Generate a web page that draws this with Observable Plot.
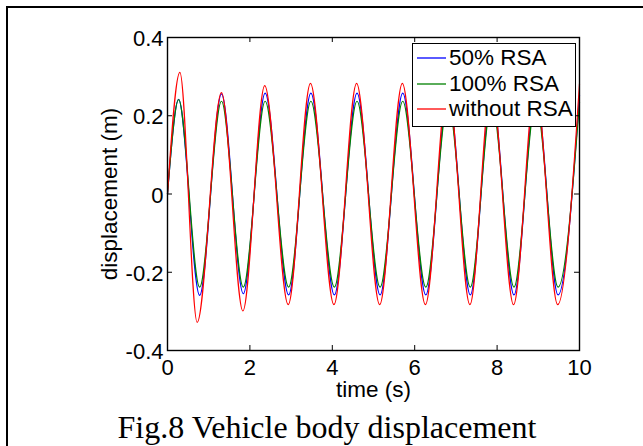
<!DOCTYPE html>
<html><head><meta charset="utf-8">
<script src="https://cdn.jsdelivr.net/npm/d3@7"></script>
<script src="https://cdn.jsdelivr.net/npm/@observablehq/plot@0.6"></script>
<style>
html,body{margin:0;padding:0;background:#fff;overflow:hidden;}
#wrap{position:relative;width:643px;height:446px;overflow:hidden;background:#fff;}
#border{position:absolute;left:6px;top:6px;width:800px;height:600px;border-left:2px solid #000;border-top:2px solid #000;box-sizing:border-box;}
#chart{position:absolute;left:0;top:0;}
#legend{position:absolute;left:412px;top:43px;width:164px;height:84px;border:1px solid #000;background:#fff;box-sizing:border-box;font-family:"Liberation Sans",Arial,sans-serif;font-size:22.5px;color:#000;}
.row{position:absolute;left:0;height:26px;display:flex;align-items:center;white-space:nowrap;}
.row svg{display:block;margin-left:4px;margin-right:3px;}
#caption{position:absolute;left:6px;width:642px;top:411px;line-height:32px;text-align:center;font-family:"Liberation Serif","Times New Roman",serif;font-size:32px;color:#000;white-space:nowrap;}
</style></head>
<body>
<div id="wrap">
  <div id="border"></div>
  <div id="chart"></div>
  <div id="legend"></div>
  <div id="caption">Fig.8 Vehicle body displacement</div>
</div>
<script>
// time of extrema (s) and displacement (m)
const tRed   = [0, 0.30, 0.72, 1.31, 1.83, 2.36, 2.93, 3.47, 4.04, 4.59, 5.15, 5.70, 6.26, 6.80, 7.34, 7.86, 8.40, 8.93, 9.47, 10.0];
const vRed   = [0, 0.311, -0.328, 0.259, -0.299, 0.277, -0.283, 0.283, -0.283, 0.283, -0.283, 0.283, -0.283, 0.283, -0.283, 0.283, -0.283, 0.283, -0.283, 0.282];
const tRSA   = [0, 0.27, 0.78, 1.31, 1.84, 2.37, 2.94, 3.48, 4.05, 4.60, 5.16, 5.71, 6.27, 6.81, 7.35, 7.87, 8.41, 8.94, 9.48, 10.0];
const v50    = [0, 0.242, -0.259, 0.256, -0.255, 0.258, -0.258, 0.258, -0.258, 0.258, -0.258, 0.258, -0.258, 0.258, -0.258, 0.258, -0.258, 0.258, -0.258, 0.252];
const v100   = [0, 0.241, -0.238, 0.237, -0.238, 0.237, -0.238, 0.237, -0.238, 0.237, -0.238, 0.237, -0.238, 0.237, -0.238, 0.237, -0.238, 0.237, -0.238, 0.235];

const seriesNames  = ["50% RSA", "100% RSA", "without RSA"];
const seriesColors = ["#0000ff", "#008000", "#ff0000"];
const xTicks = [0, 2, 4, 6, 8, 10];
const yTicks = [-0.4, -0.2, 0, 0.2, 0.4];
const xLabel = "time (s)";
const yLabel = "displacement (m)";

const toRows = (ts, vs) => ts.map((t, i) => ({t, v: vs[i]}));
const data = [toRows(tRSA, v50), toRows(tRSA, v100), toRows(tRed, vRed)];

const W = 643, H = 400, mL = 167, mR = 64, mT = 37, mB = 50;
const innerW = W - mL - mR, innerH = H - mT - mB;
const tick = 5;

const chart = Plot.plot({
  width: W, height: H,
  marginLeft: mL, marginRight: mR, marginTop: mT, marginBottom: mB,
  x: {domain: [0, 10]},
  y: {domain: [-0.4, 0.4]},
  style: {fontFamily: "'Liberation Sans', Arial, sans-serif", fontSize: "22px", background: "transparent", color: "#000", overflow: "visible"},
  marks: [
    ...data.map((d, i) => Plot.line(d, {x: "t", y: "v", stroke: seriesColors[i], strokeWidth: 1.2, curve: "monotone-x"})),
    Plot.frame({stroke: "#000", strokeWidth: 1.4}),
    Plot.ruleX(xTicks, {x: d => d, insetTop: innerH - tick, stroke: "#000"}),
    Plot.ruleX(xTicks, {x: d => d, insetBottom: innerH - tick, stroke: "#000"}),
    Plot.ruleY(yTicks, {y: d => d, insetRight: innerW - tick, stroke: "#000"}),
    Plot.ruleY(yTicks, {y: d => d, insetLeft: innerW - tick, stroke: "#000"}),
    Plot.axisX({ticks: xTicks, tickSize: 0, tickPadding: 8.5, tickFormat: d => String(d), label: null}),
    Plot.axisY({ticks: yTicks, tickSize: 0, tickPadding: 4, tickFormat: d => String(d), label: null, dy: 1.5}),
    Plot.text([xLabel], {frameAnchor: "bottom", dy: 39, lineAnchor: "middle", textAnchor: "middle", fontSize: 22.5}),
    Plot.text([yLabel], {frameAnchor: "left", rotate: -90, dx: -58, lineAnchor: "middle", textAnchor: "middle", fontSize: 22.5})
  ]
});
document.getElementById("chart").appendChild(chart);

const legend = document.getElementById("legend");
const rowTops = [1, 26.5, 52];
const svgNS = "http://www.w3.org/2000/svg";
seriesNames.forEach((name, i) => {
  const row = document.createElement("div");
  row.className = "row";
  row.style.top = rowTops[i] + "px";
  const sw = document.createElementNS(svgNS, "svg");
  sw.setAttribute("width", "29");
  sw.setAttribute("height", "4");
  const ln = document.createElementNS(svgNS, "line");
  ln.setAttribute("x1", "0"); ln.setAttribute("x2", "29");
  ln.setAttribute("y1", "2"); ln.setAttribute("y2", "2");
  ln.setAttribute("stroke", seriesColors[i]);
  ln.setAttribute("stroke-width", "1.3");
  sw.appendChild(ln);
  const label = document.createElement("span");
  label.textContent = name;
  row.appendChild(sw);
  row.appendChild(label);
  legend.appendChild(row);
});
</script>
</body></html>
